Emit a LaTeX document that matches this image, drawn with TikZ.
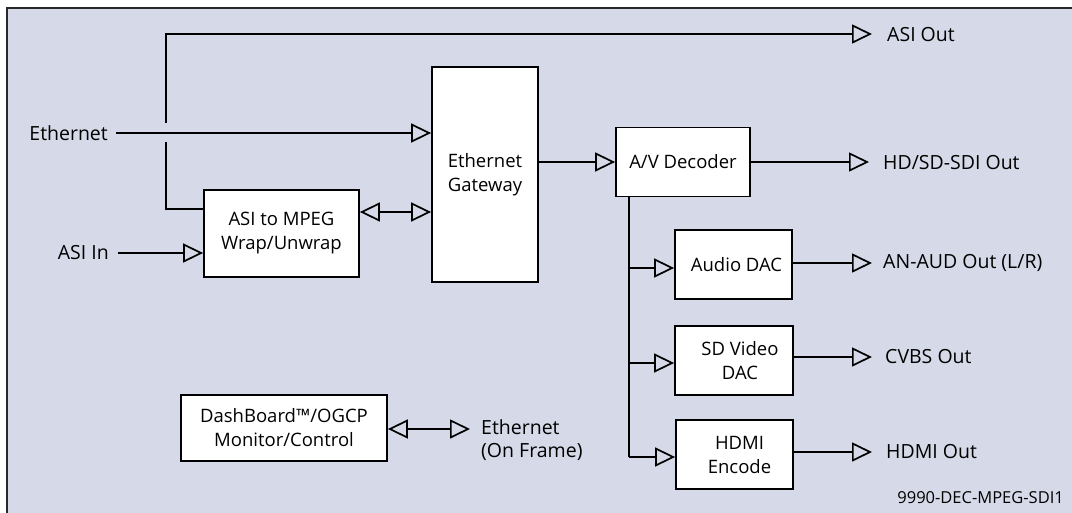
\documentclass[tikz,border=0pt]{standalone}
\usepackage{fontspec}
\setmainfont{Open Sans}
\usetikzlibrary{arrows.meta}
\definecolor{panel}{RGB}{214,218,232}
\definecolor{edge}{RGB}{40,40,40}
\begin{document}
\begin{tikzpicture}[x=1pt,y=-1pt,
  tip/.style={-{Triangle[open,length=20pt,width=19pt,line width=1.7pt]}},
  dtip/.style={{Triangle[open,length=20pt,width=19pt,line width=1.7pt]}-{Triangle[open,length=20pt,width=19pt,line width=1.7pt]}},
  conn/.style={line width=1.8pt,black},
  blk/.style={draw=black,line width=1.8pt,fill=white,inner sep=0pt,align=center,font=\fontsize{18.5}{24}\selectfont},
  lbl/.style={font=\fontsize{19.5}{23}\selectfont,inner sep=0pt,anchor=west},
  >=Triangle]
\useasboundingbox (0,0) rectangle (1072,512);
\fill[white] (0,0) rectangle (1072,512);
\begin{scope}
\clip (0,0) rectangle (1072,512);
\draw[fill=panel,draw=edge,line width=1.8pt] (7,8) rectangle (1090,530);
\end{scope}

% blocks
\node[blk,minimum width=155pt,minimum height=87pt] (asi) at (281.5,233.5) {ASI to MPEG\\Wrap/Unwrap};
\node[blk,minimum width=106pt,minimum height=215pt] (gw) at (485,174.5) {Ethernet\\Gateway};
\node[blk,minimum width=134pt,minimum height=69pt] (dec) at (683,162) {A/V Decoder};
\node[blk,minimum width=117pt,minimum height=69pt] (aud) at (733.5,264.5) {\hspace*{6pt}Audio DAC};
\node[blk,minimum width=118pt,minimum height=69pt] (sdv) at (734,360.5) {\hspace*{12pt}SD Video\\\hspace*{12pt}DAC};
\node[blk,minimum width=117pt,minimum height=69pt] (hdmi) at (734.5,454.5) {\hspace*{10pt}HDMI\\\hspace*{10pt}Encode};
\node[blk,minimum width=206pt,minimum height=66pt] (dash) at (284,428) {DashBoard™/OGCP\\Monitor/Control};

% labels
\node[lbl,anchor=east] (eth) at (108,133) {Ethernet};
\node[lbl,anchor=east] (asiin) at (109,253) {ASI In};
\node[lbl] (asiout) at (887,35) {ASI Out};
\node[lbl] (sdi) at (883,163) {HD/SD-SDI Out};
\node[lbl] (aout) at (883,263) {AN-AUD Out (L/R)};
\node[lbl] (cvbs) at (885,357) {CVBS Out};
\node[lbl] (hout) at (886,452) {HDMI Out};
\node[lbl,align=left] (ethf) at (481,440) {Ethernet\\(On Frame)};
\node[font=\fontsize{16.5}{18}\selectfont,inner sep=0pt,anchor=east] (code) at (1064,498) {9990-DEC-MPEG-SDI1};

% coordinates
\coordinate (ethS) at (116,133);
\coordinate (asiS) at (118,253);
\coordinate (jb) at (166,209);
\coordinate (gapB) at (166,142);
\coordinate (gapT) at (166,123);
\coordinate (jt) at (166,34);
\coordinate (asioT) at (872,34);
\coordinate (sdiT) at (869,162);
\coordinate (audT) at (872,263);
\coordinate (cvbsT) at (872,357);
\coordinate (hdmiT) at (872,452);
\coordinate (ethfT) at (470,429);
\coordinate (vt) at (629,196);
\coordinate (v1) at (629,268);
\coordinate (v2) at (629,363);
\coordinate (vb) at (629,457);

% connectors
\draw[conn,tip] (ethS) -- (ethS -| gw.west);
\draw[conn,tip] (asiS) -- (asiS -| asi.west);
\draw[conn] (asi.west |- jb) -- (jb) -- (gapB);
\draw[conn,tip] (gapT) -- (jt) -- (asioT);
\draw[conn,dtip] (asi.east |- 0,212) -- (gw.west |- 0,212);
\draw[conn,tip] (gw.east |- dec.west) -- (dec.west);
\draw[conn,tip] (dec.east |- sdiT) -- (sdiT);
\draw[conn] (vt) -- (vb);
\draw[conn,tip] (v1) -- (v1 -| aud.west);
\draw[conn,tip] (v2) -- (v2 -| sdv.west);
\draw[conn,tip] (vb) -- (vb -| hdmi.west);
\draw[conn,tip] (aud.east |- audT) -- (audT);
\draw[conn,tip] (sdv.east |- cvbsT) -- (cvbsT);
\draw[conn,tip] (hdmi.east |- hdmiT) -- (hdmiT);
\draw[conn,dtip] (dash.east |- ethfT) -- (ethfT);
\end{tikzpicture}
\end{document}
